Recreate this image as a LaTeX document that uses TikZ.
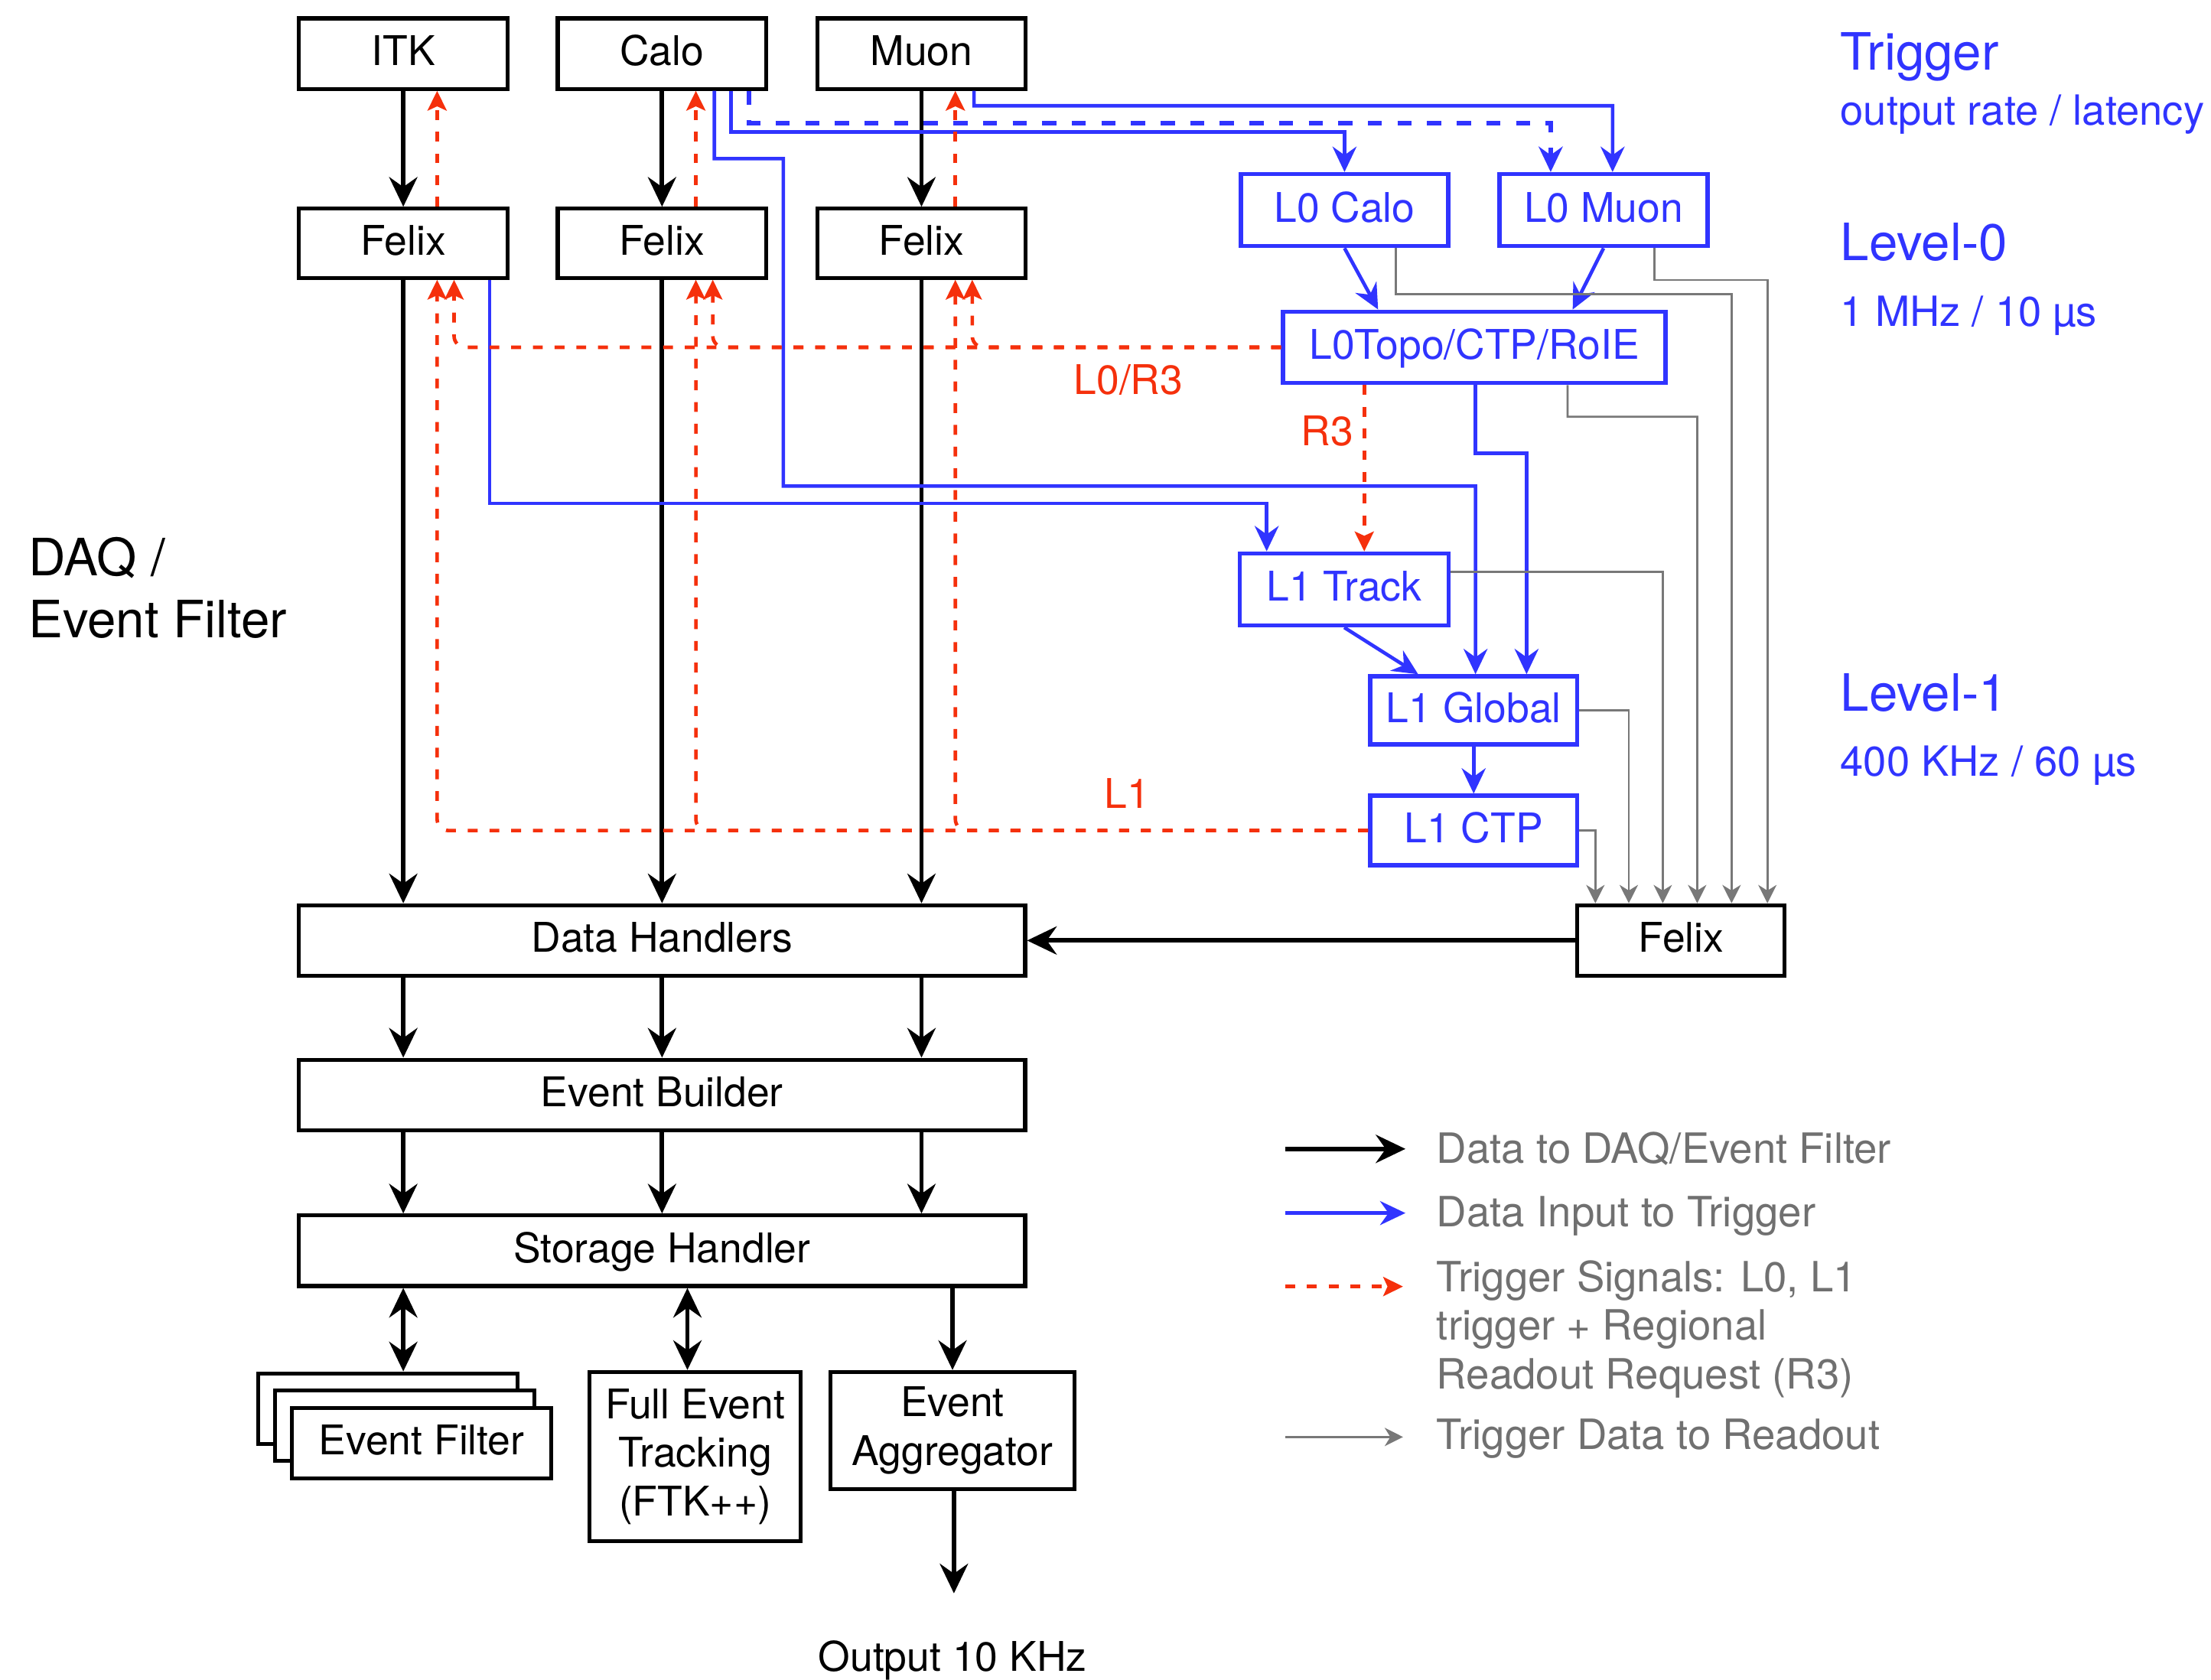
\documentclass[tikz,border=0pt]{standalone}
\usepackage{fontspec}
\setmainfont{TeX Gyre Heros}
\usetikzlibrary{arrows.meta}
\definecolor{trigblue}{RGB}{48,52,255}
\definecolor{sigred}{RGB}{245,48,12}
\definecolor{rdgray}{RGB}{120,120,120}
\definecolor{legtext}{RGB}{112,112,112}
\newcommand\fsmain{\fontsize{29}{34.5}\selectfont}
\newcommand\fsleg{\fontsize{29.6}{34.5}\selectfont}
\newcommand\fsbig{\fontsize{36.5}{42}\selectfont}
\newcommand\fsrate{\fontsize{29.5}{35}\selectfont}

\begin{document}
\begin{tikzpicture}[x=1pt,y=-1pt,
  box/.style={draw=black, line width=2.8pt, inner sep=0pt, font=\fsmain,
    minimum width=148pt, minimum height=50pt, text height=20.8pt, text depth=4pt},
  mbox/.style={draw=black, line width=2.8pt, inner sep=0pt, font=\fsmain, align=center},
  tbox/.style={draw=trigblue, text=trigblue, line width=3pt, inner sep=0pt, font=\fsmain,
    minimum width=147pt, minimum height=50pt, text height=20.8pt, text depth=4pt},
  data/.style={line width=3.2pt, -{Stealth[length=21pt,width=20pt,inset=7pt]}},
  ddata/.style={line width=3.2pt, {Stealth[length=21pt,width=20pt,inset=7pt]}-{Stealth[length=21pt,width=20pt,inset=7pt]}},
  tin/.style={draw=trigblue, line width=2.5pt, -{Stealth[length=18pt,width=17pt,inset=6pt]}},
  sig/.style={draw=sigred, line width=2.5pt, dash pattern=on 7pt off 8.4pt,
    -{Stealth[length=14pt,width=13.5pt,inset=3pt]}, rounded corners=8pt},
  ro/.style={draw=rdgray, line width=1.5pt, -{Stealth[length=13pt,width=13pt,inset=4pt]}},
  lbl/.style={inner sep=0pt, anchor=base west},
]
\useasboundingbox (0,0) rectangle (1568,1191);

% ---------------- detectors and readout ----------------
\node[box] (ITK)  at (286,38)   {ITK};
\node[box] (Calo) at (469.5,38) {Calo};
\node[box] (Muon) at (653.5,38) {Muon};
\node[box, minimum height=49pt] (F1) at (286,172.5)   {Felix};
\node[box, minimum height=49pt] (F2) at (469.5,172.5) {Felix};
\node[box, minimum height=49pt] (F3) at (653.5,172.5) {Felix};

\node[box, minimum width=515pt] (DH) at (469.5,667)   {Data Handlers};
\node[box, minimum width=515pt] (EB) at (469.5,776.5) {Event Builder};
\node[box, minimum width=515pt] (SH) at (469.5,887)   {Storage Handler};

% stacked event filter farm
\node[box, fill=white, minimum width=184pt] (EFc) at (275,999)    {};
\node[box, fill=white, minimum width=184pt] (EFb) at (287,1011)   {};
\node[box, fill=white, minimum width=184pt] (EF)  at (299,1023.5) {Event Filter};

\node[mbox, minimum width=150pt, minimum height=120pt] (FET) at (493,1033)
  {Full Event\\Tracking\\(FTK++)};
\node[mbox, minimum width=173pt, minimum height=83pt] (EA) at (675.5,1014.5)
  {Event\\Aggregator};

\node[box, minimum width=147pt] (FR) at (1192.2,667) {Felix};

% ---------------- trigger boxes ----------------
\node[tbox, minimum height=51pt] (L0Calo) at (953.5,149)  {L0 Calo};
\node[tbox, minimum width=147.6pt, minimum height=51pt] (L0Muon) at (1137.2,149) {L0 Muon};
\node[tbox, minimum width=271pt, minimum height=50.6pt] (L0Topo) at (1045.5,246.3) {L0Topo/CTP/RoIE};
\node[tbox, minimum width=148pt, minimum height=51pt] (L1Track) at (953.3,418) {L1 Track};
\node[tbox, minimum height=48.3pt] (L1Global) at (1045.1,503.8) {L1 Global};
\node[tbox, minimum height=49.3pt] (L1CTP) at (1045.1,589) {L1 CTP};

% ---------------- data flow (black) ----------------
\draw[data] (ITK) -- (F1);
\draw[data] (Calo) -- (F2);
\draw[data] (Muon) -- (F3);
\foreach \f in {F1,F2,F3} {
  \draw[data] (\f) -- (\f |- DH.north);
  \draw[data] (\f |- DH.south) -- (\f |- EB.north);
  \draw[data] (\f |- EB.south) -- (\f |- SH.north);
}
\draw[ddata] (F1 |- SH.south) -- (F1 |- EFc.north);
\coordinate (fetin) at ([xshift=-5.5pt]FET.north);
\draw[ddata] (fetin |- SH.south) -- (fetin);
\draw[data] (EA.north |- SH.south) -- (EA);
\coordinate (outend) at (676.5,1130);
\draw[data] (EA.south -| outend) -- (outend);
\node[inner sep=0pt, anchor=base, font=\fsmain] (outlbl) at (675.5,1185) {Output 10 KHz};
\draw[data] (FR) -- (DH);

% ---------------- trigger inputs (blue) ----------------
\draw[tin] ([xshift=37.2pt]Muon.south) |- (1143.6,75) -- ([xshift=6.4pt]L0Muon.north);
\draw[tin, line width=3.2pt, dash pattern=on 10pt off 11pt]
  ([xshift=61.7pt]Calo.south) |- (1099.7,87.5) -- ([xshift=-37.5pt]L0Muon.north);
\draw[tin] ([xshift=48.9pt]Calo.south) |- (953.5,93.7) -- (L0Calo.north);
\draw[tin] ([xshift=37.1pt]Calo.south) |- (555.5,112.5) |- (1046.4,344.7)
  -- ([xshift=1.3pt]L1Global.north);
\draw[tin] ([xshift=0.9pt]L0Topo.south) |- (1082.6,321.4) -- ([xshift=37.5pt]L1Global.north);
\draw[tin] ([xshift=61.3pt]F1.south) |- (898.3,357) -- ([xshift=-55pt]L1Track.north);
\draw[tin] (L0Calo.south) -- ([xshift=-68.2pt]L0Topo.north);
\draw[tin] (L0Muon.south) -- ([xshift=69.8pt]L0Topo.north);
\draw[tin] (L1Track.south) -- ([xshift=-39.4pt]L1Global.north);
\draw[tin] (L1Global) -- (L1CTP);

% ---------------- trigger signals (red) ----------------
\draw[sig] ([xshift=24pt]F1.north) -- ([xshift=24pt]ITK.south);
\draw[sig] ([xshift=24pt]F2.north) -- ([xshift=24pt]Calo.south);
\draw[sig] ([xshift=24pt]F3.north) -- ([xshift=24pt]Muon.south);
\foreach \f in {F1,F2,F3} {
  \draw[sig] (L0Topo.west) -| ([xshift=36pt]\f.south);
  \draw[sig] (L1CTP.west) -| ([xshift=24pt]\f.south);
}
\draw[sig] ([xshift=-78pt]L0Topo.south) -- ([xshift=14.2pt]L1Track.north);
\node[lbl, anchor=base, text=sigred, font=\fsmain] (lL0) at (800.2,279.5) {L0/R3};
\node[lbl, anchor=base, text=sigred, font=\fsmain] (lR3) at (941.3,315.8) {R3};
\node[lbl, anchor=base, text=sigred, font=\fsmain] (lL1) at (799.2,573)   {L1};

% ---------------- trigger data to readout (grey) ----------------
\draw[ro] (L1CTP.east) -| ([xshift=-60.8pt]FR.north);
\draw[ro] (L1Global.east) -| ([xshift=-37.1pt]FR.north);
\draw[ro] ([yshift=12.5pt]L1Track.east) -| ([xshift=-13pt]FR.north);
\draw[ro] ([xshift=66.2pt]L0Topo.south) |- (1203.6,295.6) -- ([xshift=11.4pt]FR.north);
\draw[ro] ([xshift=36.2pt]L0Calo.south) |- (1228,208.5) -- ([xshift=35.8pt]FR.north);
\draw[ro] ([xshift=36.2pt]L0Muon.south) |- (1253.4,198.6) -- ([xshift=61.2pt]FR.north);

% ---------------- side titles ----------------
\node[lbl, font=\fsbig] (daq1) at (20,408) {DAQ /};
\node[lbl, font=\fsbig] (daq2) at (20,452) {Event Filter};

\node[lbl, text=trigblue, font=\fsbig]  (tt1) at (1305,49.5)  {Trigger};
\node[lbl, text=trigblue, font=\fsrate] (tt2) at (1305,88.5)  {output rate / latency};
\node[lbl, text=trigblue, font=\fsbig]  (lv0) at (1305,184.6) {Level-0};
\node[lbl, text=trigblue, font=\fsrate] (rt0) at (1305,231.2) {1 MHz / 10 µs};
\node[lbl, text=trigblue, font=\fsbig]  (lv1) at (1305,504.3) {Level-1};
\node[lbl, text=trigblue, font=\fsrate] (rt1) at (1305,550.6) {400 KHz / 60 µs};

% ---------------- legend ----------------
\coordinate (lg1a) at (911.4,814.8);  \coordinate (lg1b) at (996.7,814.8);
\coordinate (lg2a) at (911.4,860.3);  \coordinate (lg2b) at (996.7,860.3);
\coordinate (lg3a) at (911.4,912.4);  \coordinate (lg3b) at (995,912.4);
\coordinate (lg4a) at (911.4,1019.1); \coordinate (lg4b) at (995,1019.1);
\draw[data] (lg1a) -- (lg1b);
\draw[tin]  (lg2a) -- (lg2b);
\draw[sig]  (lg3a) -- (lg3b);
\draw[ro]   (lg4a) -- (lg4b);
\node[lbl, text=legtext, font=\fsleg] (lt1)  at (1018.7,824.7) {Data to DAQ/Event Filter};
\node[lbl, text=legtext, font=\fsleg] (lt2)  at (1018.7,870)   {Data Input to Trigger};
\node[lbl, text=legtext, font=\fsleg] (lt3a) at (1018.7,916)   {Trigger Signals: L0, L1};
\node[lbl, text=legtext, font=\fsleg] (lt3b) at (1018.7,950.5) {trigger + Regional};
\node[lbl, text=legtext, font=\fsleg] (lt3c) at (1018.7,985)   {Readout Request (R3)};
\node[lbl, text=legtext, font=\fsleg] (lt4)  at (1018.7,1028)  {Trigger Data to Readout};
\end{tikzpicture}
\end{document}
